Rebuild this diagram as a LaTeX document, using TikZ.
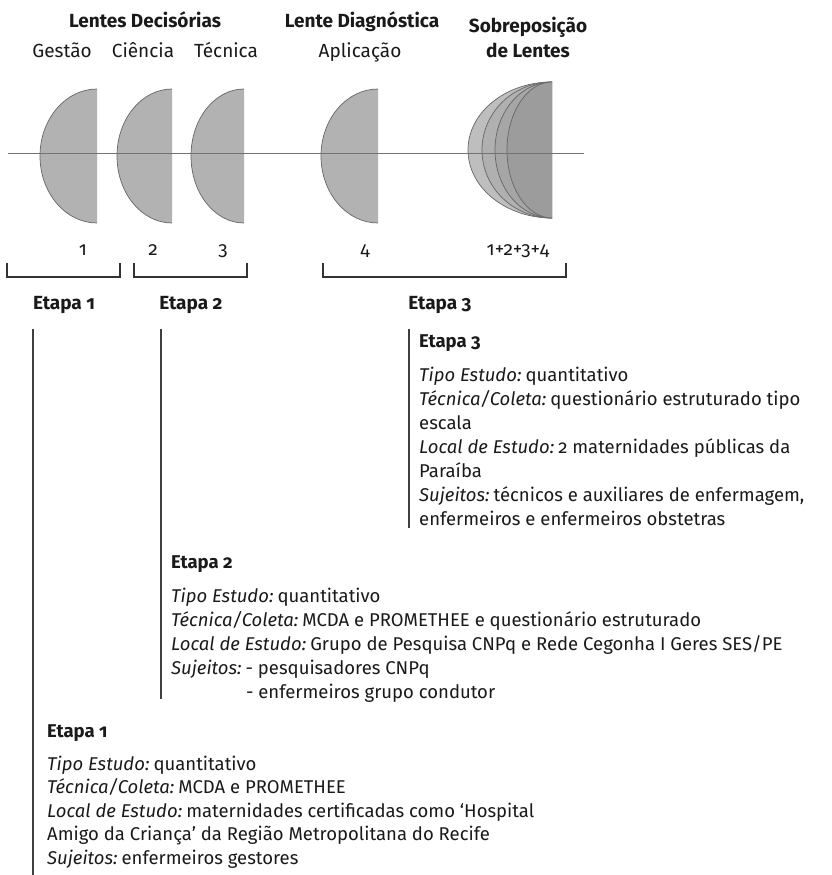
\documentclass[tikz,border=0pt]{standalone}
\usepackage{fontspec}
\setmainfont{Fira Sans}[Numbers=OldStyle]
\definecolor{lensfill}{HTML}{B2B2B2}
\definecolor{lensedge}{HTML}{666666}
\definecolor{ov1}{HTML}{BEBEBE}
\definecolor{ov2}{HTML}{B0B0B0}
\definecolor{ov3}{HTML}{A6A6A6}
\definecolor{ov4}{HTML}{9C9C9C}
\definecolor{ink}{HTML}{1A1A1A}
\newcommand\rotulo[1]{{\itshape #1:}\hspace{0.22em}}
\begin{document}
\begin{tikzpicture}[x=1pt,y=-1pt,
  title/.style={font=\fontsize{19}{22}\selectfont\bfseries, text=ink, inner sep=0pt, anchor=base},
  lab/.style={font=\fontsize{19}{22}\selectfont, text=ink, inner sep=0pt, anchor=base},
  head/.style={font=\fontsize{18.5}{22}\selectfont\bfseries, text=ink, inner sep=0pt, anchor=base west},
  ln/.style={font=\fontsize{18.5}{22}\selectfont, text=ink, inner sep=0pt, anchor=base west},
  axisline/.style={draw=black!55, line width=0.8pt},
  bracketline/.style={draw=black!80, line width=1.2pt},
  stageline/.style={draw=black!75, line width=1.2pt},
  edge/.style={draw=lensedge, line width=0.7pt}
]
\path[use as bounding box, fill=white] (0,0) rectangle (831,875);

% ---- titles
\node[title] (tdec) at (145,28) {Lentes Decisórias};
\node[title] (tdia) at (362,28) {Lente Diagnóstica};
\node[title] (tsob) at (528,33) {Sobreposição};
\node[title] (tsob2) at (528,58) {de Lentes};
\node[lab] (lges) at (62,58) {Gestão};
\node[lab] (lcie) at (143,58) {Ciência};
\node[lab] (ltec) at (226,58) {Técnica};
\node[lab] (lapl) at (360,58) {Aplicação};

% ---- single lenses
\foreach \fx/\rx in {97/57,172/55,244/53,378/57}{
  \fill[lensfill] (\fx,89) arc[start angle=90,end angle=270,x radius=\rx pt,y radius=67pt] -- cycle;
  \draw[edge] (\fx,89) arc[start angle=90,end angle=270,x radius=\rx pt,y radius=67pt];
}
% ---- overlapped lenses
\foreach \rx/\c in {84/ov1,70/ov2,57/ov3,45/ov4}{
  \fill[\c] (552,82) arc[start angle=90,end angle=270,x radius=\rx pt,y radius=68pt] -- cycle;
  \draw[edge] (552,82) arc[start angle=90,end angle=270,x radius=\rx pt,y radius=68pt];
}

% ---- optical axis
\coordinate (axL) at (8,153);
\coordinate (axR) at (584,153);
\draw[axisline] (axL) -- (axR);

% ---- numbers
\node[lab] (n1) at (83,255) {1};
\node[lab] (n2) at (153,255) {2};
\node[lab] (n3) at (223,255) {3};
\node[lab] (n4) at (365,255) {4};
\node[lab] (n5) at (518,255) {1+2+3+4};

% ---- brackets
\draw[bracketline] (7,263) -- (7,277) -- (120,277) -- (120,263);
\draw[bracketline] (134,263) -- (134,277) -- (247,277) -- (247,263);
\draw[bracketline] (323,263) -- (323,277) -- (566,277) -- (566,263);

\node[title] (e1) at (64,309) {Etapa 1};
\node[title] (e2) at (191,309) {Etapa 2};
\node[title] (e3) at (440,309) {Etapa 3};

% ---- stage lines
\draw[stageline] (33,329) -- (33,875);
\draw[stageline] (161,329) -- (161,699);
\draw[stageline] (409,329) -- (409,528);

% ---- Etapa 3 block
\node[head] (h3) at (419,347) {Etapa 3};
\node[ln] (c3a) at (419,381) {\rotulo{Tipo Estudo}quantitativo};
\node[ln] (c3b) at (419,405) {\rotulo{Técnica/Coleta}questionário estruturado tipo};
\node[ln] (c3c) at (419,429) {escala};
\node[ln] (c3d) at (419,453) {\rotulo{Local de Estudo}2 maternidades públicas da};
\node[ln] (c3e) at (419,477) {Paraíba};
\node[ln] (c3f) at (419,501) {\rotulo{Sujeitos}técnicos e auxiliares de enfermagem,};
\node[ln] (c3g) at (419,525) {enfermeiros e enfermeiros obstetras};

% ---- Etapa 2 block
\node[head] (h2) at (171,568) {Etapa 2};
\node[ln] (c2a) at (171,602) {\rotulo{Tipo Estudo}quantitativo};
\node[ln] (c2b) at (171,626) {\rotulo{Técnica/Coleta}MCDA e PROMETHEE e questionário estruturado};
\node[ln] (c2c) at (171,650) {\rotulo{Local de Estudo}Grupo de Pesquisa CNPq e Rede Cegonha I Geres SES/PE};
\node[ln] (c2d) at (171,674) {\rotulo{Sujeitos}- pesquisadores CNPq};
\node[ln, anchor=base west] (c2e) at (c2d.base west) {\phantom{\rotulo{Sujeitos}}};
\node[ln] (c2f) at ([yshift=-24pt]c2e.base east) {- enfermeiros grupo condutor};

% ---- Etapa 1 block
\node[head] (h1) at (47,737) {Etapa 1};
\node[ln] (c1a) at (47,770) {\rotulo{Tipo Estudo}quantitativo};
\node[ln] (c1b) at (47,793.5) {\rotulo{Técnica/Coleta}MCDA e PROMETHEE};
\node[ln] (c1c) at (47,817) {\rotulo{Local de Estudo}maternidades certificadas como ‘Hospital};
\node[ln] (c1d) at (47,840.5) {Amigo da Criança’ da Região Metropolitana do Recife};
\node[ln] (c1e) at (47,864) {\rotulo{Sujeitos}enfermeiros gestores};
\end{tikzpicture}
\end{document}
